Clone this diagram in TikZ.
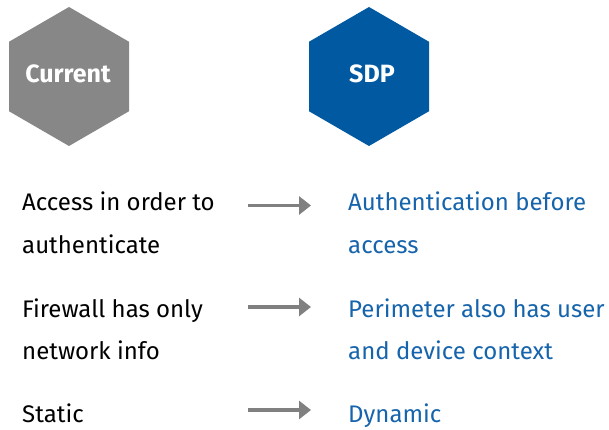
\documentclass[tikz,border=0pt]{standalone}
\usepackage{fontspec}
\setmainfont{Fira Sans}
\usetikzlibrary{arrows.meta}
\definecolor{hexgray}{HTML}{878787}
\definecolor{hexblue}{HTML}{0059A1}
\definecolor{txtblue}{HTML}{1664AC}
\definecolor{arrgray}{HTML}{808080}
\tikzset{
  hexbox/.style={fill=#1, draw=none},
  hexlabel/.style={text=white, font=\fontsize{25}{29}\selectfont\bfseries, anchor=base},
  oldtext/.style={anchor=base west, inner sep=0pt, text=black, font=\fontsize{24}{28}\selectfont},
  newtext/.style={anchor=base west, inner sep=0pt, text=txtblue, font=\fontsize{24}{28}\selectfont},
  maparrow/.style={draw=arrgray, line width=3.3pt, -{Triangle[length=12pt,width=18pt]}}
}
\begin{document}
\begin{tikzpicture}[x=1pt,y=-1pt]
  \useasboundingbox (0,0) rectangle (609,430);
  % hexagon headers
  \fill[hexbox=hexgray] (69,7) -- (129,41.75) -- (129,111.25) -- (69,146) -- (9,111.25) -- (9,41.75) -- cycle;
  \fill[hexbox=hexblue] (369,7) -- (429,41.75) -- (429,111.25) -- (369,146) -- (309,111.25) -- (309,41.75) -- cycle;
  \node[hexlabel] (cur) at (68,83) {Current};
  \node[hexlabel] (sdp) at (372,83) {SDP};
  % left column
  \node[oldtext] (o1a) at (22,211) {Access in order to};
  \node[oldtext] (o1b) at (22,253) {authenticate};
  \node[oldtext] (o2a) at (22,317) {Firewall has only};
  \node[oldtext] (o2b) at (22,359) {network info};
  \node[oldtext] (o3a) at (22,422) {Static};
  % right column
  \node[newtext] (n1a) at (348,211) {Authentication before};
  \node[newtext] (n1b) at (348,253) {access};
  \node[newtext] (n2a) at (348,317) {Perimeter also has user};
  \node[newtext] (n2b) at (348,359) {and device context};
  \node[newtext] (n3a) at (348,422) {Dynamic};
  % arrows
  \coordinate (a1s) at (248,205.5); \coordinate (a1e) at (311,205.5);
  \coordinate (a2s) at (248,307); \coordinate (a2e) at (311,307);
  \coordinate (a3s) at (248,410); \coordinate (a3e) at (311,410);
  \draw[maparrow] (a1s) -- (a1e);
  \draw[maparrow] (a2s) -- (a2e);
  \draw[maparrow] (a3s) -- (a3e);
\end{tikzpicture}
\end{document}
